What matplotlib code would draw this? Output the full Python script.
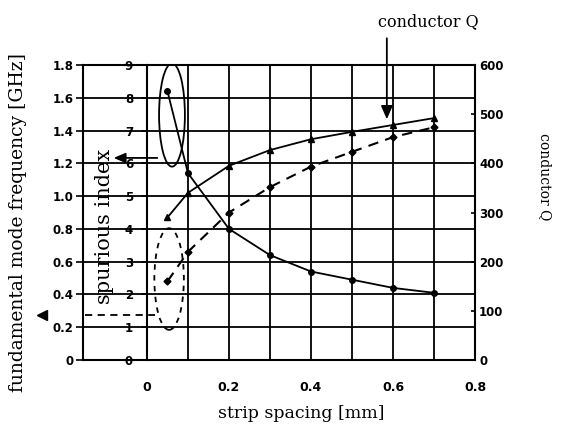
import matplotlib

matplotlib.use("Agg")
import matplotlib.pyplot as plt
from matplotlib.patches import Ellipse
import numpy as np

# values
spacing_mm = [0.05, 0.1, 0.2, 0.3, 0.4, 0.5, 0.6, 0.7]
spurious_index = [8.2, 5.7, 4.0, 3.2, 2.7, 2.45, 2.2, 2.05]
frequency_ghz = [0.48, 0.66, 0.90, 1.055, 1.18, 1.27, 1.36, 1.42]
conductor_q = [290, 340, 395, 427, 449, 464, 478, 492]

freq_ticks = [0, 0.2, 0.4, 0.6, 0.8, 1.0, 1.2, 1.4, 1.6, 1.8]
freq_labels = ["0", "0.2", "0.4", "0.6", "0.8", "1.0", "1.2", "1.4", "1.6", "1.8"]
index_ticks = list(range(10))
q_ticks = [0, 100, 200, 300, 400, 500, 600]
x_ticks = [0, 0.2, 0.4, 0.6, 0.8]
x_labels = ["0", "0.2", "0.4", "0.6", "0.8"]

SERIF = ["DejaVu Serif"]
TICKF = ["Liberation Sans Narrow", "DejaVu Sans"]
W, H = 568, 437

fig = plt.figure(figsize=(W / 100, H / 100), dpi=100)
ax = fig.add_axes([83 / W, 1 - 360 / H, 392 / W, 295 / H])
ax.set_xlim(-0.156, 0.8)
ax.set_ylim(0, 1.8)

# frequency axis (outer left)
ax.set_yticks(freq_ticks)
ax.set_yticklabels(freq_labels, family=TICKF, fontsize=8.5, fontweight="bold")
ax.tick_params(axis="y", direction="out", length=5, width=1.2, pad=2)
ax.set_xticks(x_ticks)
ax.set_xticklabels(x_labels, family=TICKF, fontsize=9, fontweight="bold")
ax.set_xticks([0.1, 0.3, 0.5, 0.7], minor=True)
ax.tick_params(axis="x", which="both", length=0, pad=15)
ax.grid(True, which="both", color="black", lw=1.3)
ax.set_axisbelow(True)
for s in ["top", "bottom", "left"]:
    ax.spines[s].set_linewidth(1.5)
ax.spines["right"].set_visible(False)

# spurious index axis sits on x = 0
ax_s = ax.twinx()
ax_s.spines["left"].set_position(("data", 0))
ax_s.spines["left"].set_linewidth(1.5)
for s in ["top", "bottom", "right"]:
    ax_s.spines[s].set_visible(False)
ax_s.set_ylim(0, 9)
ax_s.yaxis.set_ticks_position("left")
ax_s.set_yticks(index_ticks)
ax_s.set_yticklabels([str(t) for t in index_ticks], family=TICKF,
                     fontsize=8.5, fontweight="bold")
ax_s.tick_params(axis="y", direction="out", length=4, width=1.2, pad=6)

# conductor Q axis (right)
ax_q = ax.twinx()
ax_q.set_ylim(0, 600)
ax_q.set_yticks(q_ticks)
ax_q.set_yticklabels([str(t) for t in q_ticks], family=TICKF,
                     fontsize=8.5, fontweight="bold")
ax_q.tick_params(axis="y", direction="in", length=3, width=1.2, pad=3)
ax_q.spines["right"].set_linewidth(1.5)
for s in ["top", "bottom", "left"]:
    ax_q.spines[s].set_visible(False)

# curves
ax_s.plot(spacing_mm, spurious_index, "-o", color="black", lw=1.3, ms=4)
ax.plot(spacing_mm, frequency_ghz, "--D", color="black", lw=1.5, ms=3.5,
        dashes=(5, 3.5))
ax_q.plot(spacing_mm, conductor_q, "-^", color="black", lw=1.3, ms=4.5)

# annotations
ax.add_patch(Ellipse((0.061, 1.495), 0.063, 0.63, fill=False, lw=1.3,
                     color="black", zorder=5))
ax.add_patch(Ellipse((0.054, 0.494), 0.072, 0.62, fill=False, lw=1.3,
                     color="black", ls=(0, (3, 3)), zorder=5))
ax.annotate("", xy=(-0.088, 1.233), xytext=(0.032, 1.233),
            arrowprops=dict(arrowstyle="-|>,head_length=0.7,head_width=0.3",
                            color="black", lw=1.3), annotation_clip=False)
ax.plot([-0.150, 0.02], [0.275, 0.275], color="black", lw=1.3,
        dashes=(4, 3), zorder=5)
ax.plot([-0.256], [0.275], marker="<", color="black", ms=7, clip_on=False)
ax_q.annotate("", xy=(0.585, 484), xytext=(0.585, 660),
              arrowprops=dict(arrowstyle="-|>,head_length=0.8,head_width=0.35",
                              color="black", lw=1.3), annotation_clip=False)

fig.text(428 / W, 1 - 22 / H, "conductor Q", family=SERIF, fontsize=11.5,
         ha="center", va="center")
fig.text(18 / W, 1 - 223 / H, "fundamental mode frequency [GHz]", family=SERIF,
         fontsize=13.5, rotation=90, ha="center", va="center")
fig.text(105 / W, 1 - 226 / H, "spurious index", family=SERIF,
         fontsize=15, rotation=90, ha="center", va="center")
fig.text(545 / W, 1 - 177 / H, "conductor Q", family=SERIF, fontsize=10,
         rotation=270, ha="center", va="center")
fig.text(301 / W, 1 - 414 / H, "strip spacing [mm]", family=SERIF,
         fontsize=12.5, ha="center", va="center")

fig.savefig("out.png", dpi=100)
